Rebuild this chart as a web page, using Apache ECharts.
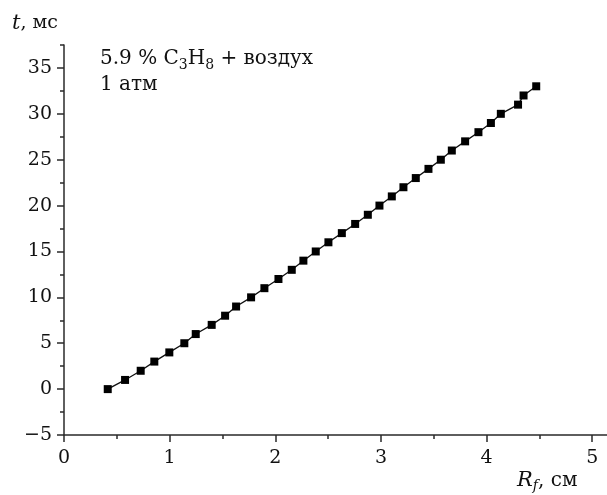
<!DOCTYPE html>
<html>
<head>
<meta charset="utf-8">
<script src="https://cdn.jsdelivr.net/npm/echarts@6/dist/echarts.min.js"></script>
<style>html,body{margin:0;padding:0;background:#fff}#c{width:607px;height:495px}</style>
</head>
<body>
<div id="c"></div>
<script>
// Flame radius R_f (cm) and time t (ms)
const radius = [0.414,0.578,0.726,0.855,0.997,1.139,1.247,1.398,1.525,1.629,1.771,1.897,2.030,2.156,2.266,2.383,2.503,2.630,2.756,2.876,2.986,3.103,3.213,3.330,3.450,3.567,3.671,3.797,3.923,4.041,4.135,4.298,4.350,4.470];
const timeMs = [0,1,2,3,4,5,6,7,8,9,10,11,12,13,14,15,16,17,18,19,20,21,22,23,24,25,26,27,28,29,30,31,32,33];
const xMajor = [0,1,2,3,4,5];
const xMinor = [0.5,1.5,2.5,3.5,4.5];
const yMajor = [-5,0,5,10,15,20,25,30,35];
const yMinor = [-2.5,2.5,7.5,12.5,17.5,22.5,27.5,32.5,37.5];

const FONT = 'DejaVu Serif';
const AX = '#2a2a2a';
const points = radius.map((r, i) => [r, timeMs[i]]);

const chart = echarts.init(document.getElementById('c'), null, {renderer: 'canvas'});
const xBase = {type: 'value', min: 0, max: 5.14, position: 'bottom', splitLine: {show: false}};
const yBase = {type: 'value', min: -5, max: 37.5, position: 'left', splitLine: {show: false}};
chart.setOption({
  animation: false,
  backgroundColor: '#fff',
  grid: {left: 64, right: 0, top: 45, bottom: 60, containLabel: false},
  xAxis: [
    Object.assign({}, xBase, {
      axisLine: {show: true, onZero: false, lineStyle: {color: AX, width: 1.5}},
      axisTick: {show: true, inside: false, length: 7, customValues: xMajor, lineStyle: {color: AX, width: 1.5}},
      axisLabel: {show: true, customValues: xMajor, margin: 14, fontFamily: FONT, fontSize: 19, color: '#111'}
    }),
    Object.assign({}, xBase, {
      axisLine: {show: false, onZero: false},
      axisTick: {show: true, inside: false, length: 4, customValues: xMinor, lineStyle: {color: AX, width: 1.5}},
      axisLabel: {show: false}
    })
  ],
  yAxis: [
    Object.assign({}, yBase, {
      axisLine: {show: true, onZero: false, lineStyle: {color: AX, width: 1.5}},
      axisTick: {show: true, inside: false, length: 7, customValues: yMajor, lineStyle: {color: AX, width: 1.5}},
      axisLabel: {show: true, customValues: yMajor, margin: 12, fontFamily: FONT, fontSize: 19, color: '#111',
        formatter: v => (v < 0 ? '\u2212' + Math.abs(v) : String(v))}
    }),
    Object.assign({}, yBase, {
      axisLine: {show: false, onZero: false},
      axisTick: {show: true, inside: false, length: 4, customValues: yMinor, lineStyle: {color: AX, width: 1.5}},
      axisLabel: {show: false}
    })
  ],
  series: [{
    type: 'line',
    data: points,
    xAxisIndex: 0,
    yAxisIndex: 0,
    symbol: 'rect',
    symbolSize: 8,
    showAllSymbol: true,
    lineStyle: {color: '#111', width: 1.3},
    itemStyle: {color: '#000'}
  }],
  graphic: [
    {
      type: 'text', left: 100, top: 46,
      style: {
        text: '5.9 % C{s|3}H{s|8} + воздух\n1 атм',
        font: '20px "' + FONT + '"', fill: '#111', lineHeight: 26,
        rich: {s: {fontSize: 14, fontFamily: FONT, fill: '#111', verticalAlign: 'bottom', lineHeight: 24}}
      }
    },
    {
      type: 'text', left: 12, top: 13,
      style: {
        text: '{i|t}, мс',
        font: '19px "' + FONT + '"', fill: '#111',
        rich: {i: {fontStyle: 'italic', fontSize: 21, fontFamily: FONT, fill: '#111'}}
      }
    },
    {
      type: 'text', left: 517, top: 468,
      style: {
        text: '{i|R}{s|f}, см',
        font: '20px "' + FONT + '"', fill: '#111', lineHeight: 25,
        rich: {
          i: {fontStyle: 'italic', fontSize: 21, fontFamily: FONT, fill: '#111', lineHeight: 25},
          s: {fontStyle: 'italic', fontSize: 14, fontFamily: FONT, fill: '#111', verticalAlign: 'bottom', lineHeight: 25}
        }
      }
    }
  ]
});
</script>
</body>
</html>
